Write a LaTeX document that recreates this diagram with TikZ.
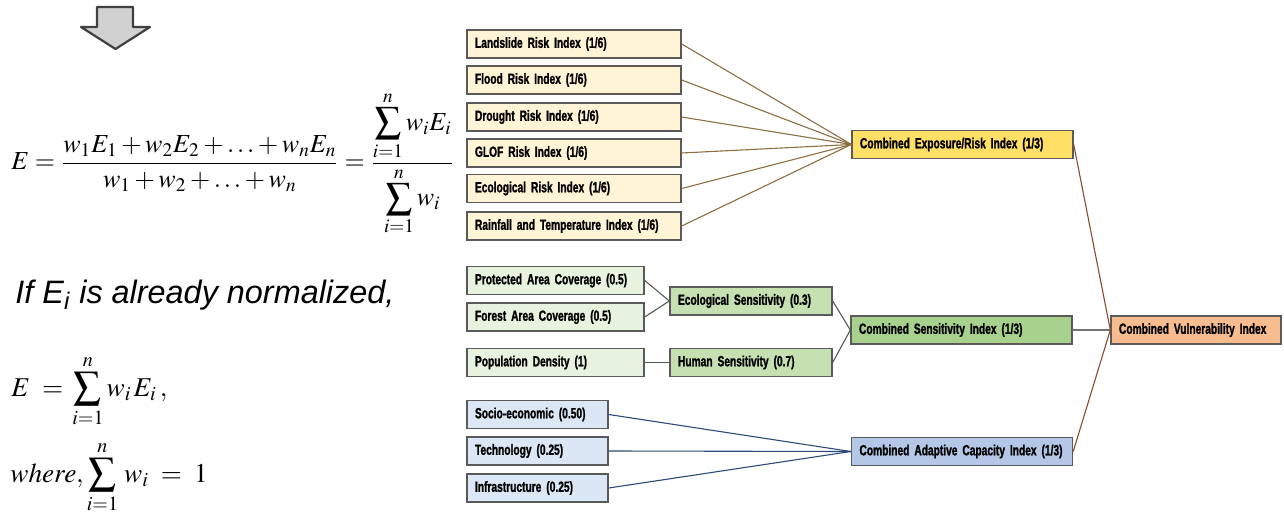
\documentclass[tikz,border=0pt]{standalone}
\usepackage{mathptmx}
\usepackage{amsmath}
\usepackage[no-math]{fontspec}
\setmainfont{Liberation Sans}
\newfontfamily\boxfont[FakeStretch=0.69, BoldFeatures={FakeBold=1.2}]{Liberation Sans}
\newfontfamily\noteFont{Liberation Sans}
% condensed bold label face with tight word spacing
\newcommand\labelface{\boxfont\bfseries\fontsize{7.4}{8}\selectfont
  \spaceskip=1.6pt plus 0.5pt minus 0.2pt\relax}

\definecolor{riskfill}{HTML}{FFF5D6}
\definecolor{expofill}{HTML}{FFDF66}
\definecolor{greenlight}{HTML}{E7F2DF}
\definecolor{greenmid}{HTML}{C6E0B2}
\definecolor{greendark}{HTML}{A9D18E}
\definecolor{bluelight}{HTML}{DCE7F5}
\definecolor{bluemid}{HTML}{B4C7E7}
\definecolor{vulnfill}{HTML}{F8BC8E}
\definecolor{boxline}{HTML}{5A5A5A}
\definecolor{riskline}{HTML}{8E6E40}
\definecolor{vulnline}{HTML}{8B4A2F}
\definecolor{greenline}{HTML}{4E5E4E}
\definecolor{blueline}{HTML}{2B4A7A}

\tikzset{
  idx/.style={draw=boxline, line width=0.7pt, minimum height=14pt,
    inner xsep=4pt, inner ysep=0pt, align=left,
    font=\labelface, text=black},
  risk/.style={idx, fill=riskfill, text width=99pt},
  expo/.style={idx, fill=expofill, text width=102.5pt},
  gin/.style={idx, fill=greenlight, text width=80.5pt},
  gmid/.style={idx, fill=greenmid, text width=73pt},
  gcomb/.style={idx, fill=greendark, text width=102.5pt},
  bin/.style={idx, fill=bluelight, text width=62.5pt},
  bcomb/.style={idx, fill=bluemid, text width=102.5pt},
  vuln/.style={idx, fill=vulnfill, text width=77pt},
  wire/.style={line width=0.55pt},
  bigarrow/.style={draw=black!75, fill=black!18, line width=1.1pt, line join=round},
  formula/.style={anchor=base west, inner sep=0pt}
}

\begin{document}
\begin{tikzpicture}[x=0.5pt, y=-0.5pt]
\useasboundingbox (0,0) rectangle (1284,513);

% block arrow pointing down
\draw[bigarrow] (97,7) -- (133,7) -- (133,27) -- (150,27) -- (115.5,49)
  -- (81,27) -- (97,27) -- cycle;

% weighted average formulas
\node[formula, font=\fontsize{13}{15}\selectfont] (wavg) at (11,170)
  {$E=\dfrac{w_1E_1+w_2E_2+\ldots+w_nE_n}{w_1+w_2+\ldots+w_n}
     =\dfrac{\displaystyle\sum_{i=1}^{n} w_iE_i}{\displaystyle\sum_{i=1}^{n} w_i}$};
\node[formula, font=\noteFont\itshape\fontsize{16.2}{18}\selectfont]
  (note) at (15,303) {If E\textsubscript{i} is already normalized,};
\node[formula, font=\fontsize{13.6}{15}\selectfont] (wsum) at (11,396)
  {$\displaystyle E\;=\,\sum_{i=1}^{n} w_{i\,}E_{i}\,,$};
\node[formula, font=\fontsize{13.6}{15}\selectfont] (wcond) at (10,482)
  {$\displaystyle where,\sum_{i=1}^{n}\, w_{i}\;=\;1$};

% exposure / risk group
\node[risk] (land) at (574,44)  {Landslide Risk Index (1/6)};
\node[risk] (flood) at (574,80) {Flood Risk Index (1/6)};
\node[risk] (drought) at (574,117) {Drought Risk Index (1/6)};
\node[risk] (glof) at (574,153) {GLOF Risk Index (1/6)};
\node[risk] (ecorisk) at (574,188.5) {Ecological Risk Index (1/6)};
\node[risk] (rain) at (574,226) {Rainfall and Temperature Index (1/6)};
\node[expo] (expo) at (962.5,144.5) {Combined Exposure/Risk Index (1/3)};

% sensitivity group
\node[gin] (protected) at (555.5,280.5) {Protected Area Coverage (0.5)};
\node[gin] (forest) at (555.5,317) {Forest Area Coverage (0.5)};
\node[gin] (popden) at (555.5,362.5) {Population Density (1)};
\node[gmid] (ecosens) at (751,301) {Ecological Sensitivity (0.3)};
\node[gmid] (humsens) at (751,362.5) {Human Sensitivity (0.7)};
\node[gcomb] (sens) at (961.5,330) {Combined Sensitivity Index (1/3)};

% adaptive capacity group
\node[bin] (socio) at (537.5,414.5) {Socio-economic (0.50)};
\node[bin] (tech) at (537.5,451) {Technology (0.25)};
\node[bin] (infra) at (537.5,488) {Infrastructure (0.25)};
\node[bcomb] (adapt) at (962,451.5) {\mbox{Combined Adaptive Capacity Index (1/3)}};

% overall index
\node[vuln] (vuln) at (1196,330) {\mbox{Combined Vulnerability Index}};

% connectors
\foreach \n in {land,flood,drought,glof,ecorisk,rain}
  \draw[wire, riskline] (\n.east) -- (expo.west);
\draw[wire, greenline] (protected.east) -- (ecosens.west);
\draw[wire, greenline] (forest.east) -- (ecosens.west);
\draw[wire, greenline] (popden.east) -- (humsens.west);
\draw[wire, greenline] (ecosens.east) -- (sens.west);
\draw[wire, greenline] (humsens.east) -- (sens.west);
\foreach \n in {socio,tech,infra}
  \draw[wire, blueline] (\n.east) -- (adapt.west);
\draw[wire, vulnline] (expo.east) -- (vuln.west);
\draw[wire, black!55] (sens.east) -- (vuln.west);
\draw[wire, vulnline] (adapt.east) -- (vuln.west);
\end{tikzpicture}
\end{document}
